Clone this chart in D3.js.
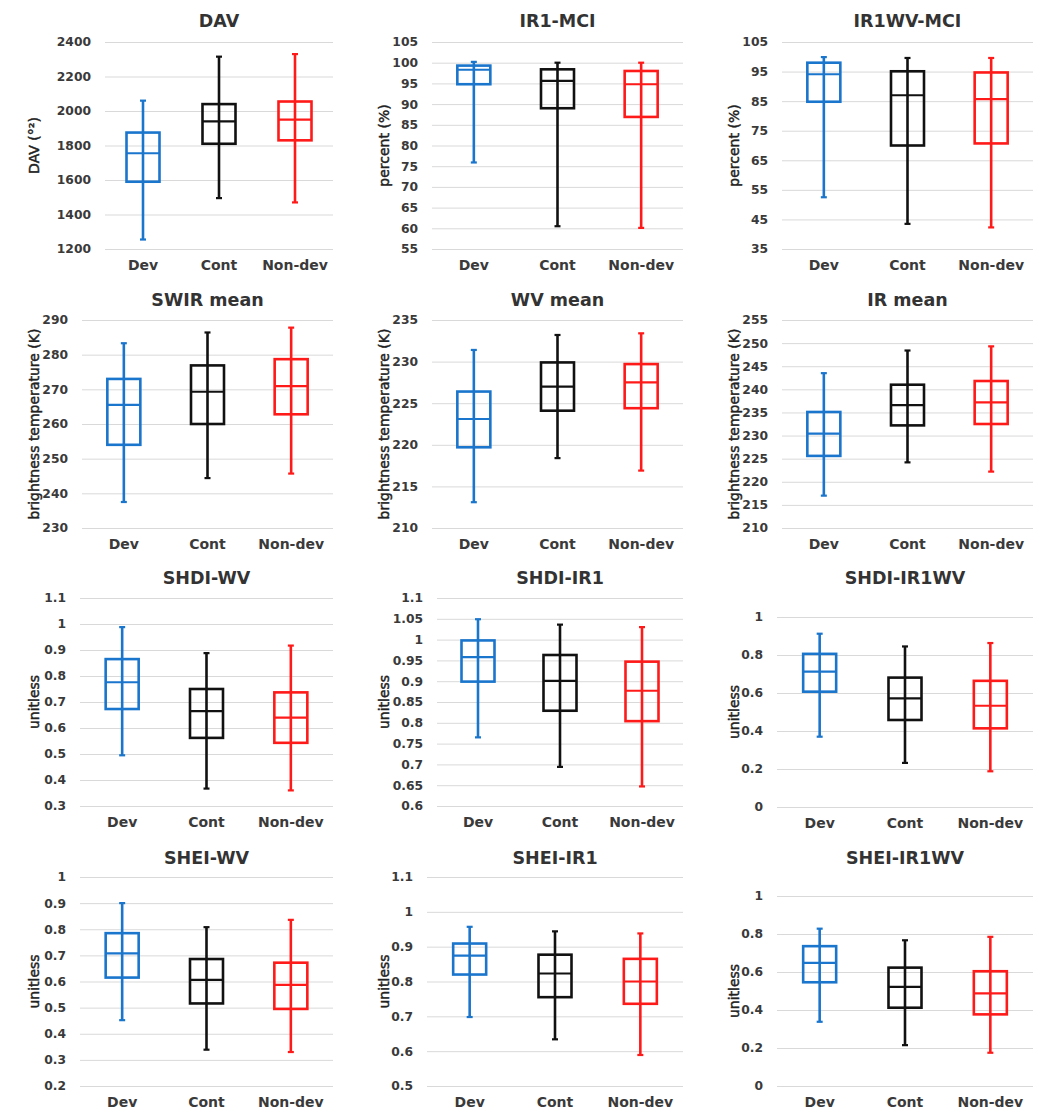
<!DOCTYPE html>
<html>
<head>
<meta charset="utf-8">
<script src="https://cdn.jsdelivr.net/npm/d3@7"></script>
<style>
  html, body { margin: 0; padding: 0; background: #fff; }
  svg { display: block; }
</style>
</head>
<body>
<svg id="chart" width="1051" height="1120"></svg>
<script>
// ---------- DATA ----------
const categories = ["Dev", "Cont", "Non-dev"];
const seriesColors = ["#1a75cc", "#111111", "#ff1a1a"];

const titles = ["DAV", "IR1-MCI", "IR1WV-MCI", "SWIR mean", "WV mean", "IR mean",
  "SHDI-WV", "SHDI-IR1", "SHDI-IR1WV", "SHEI-WV", "SHEI-IR1", "SHEI-IR1WV"];
const yLabels = ["DAV (°²)", "percent (%)", "percent (%)",
  "brightness temperature (K)", "brightness temperature (K)", "brightness temperature (K)",
  "unitless", "unitless", "unitless", "unitless", "unitless", "unitless"];

// each row: [min, q1, median, q3, max] for Dev, Cont, Non-dev
const davStats       = [[1255, 1590, 1755, 1875, 2060], [1495, 1810, 1940, 2040, 2315], [1470, 1830, 1950, 2055, 2330]];
const ir1MciStats    = [[75.9, 94.8, 98.3, 99.3, 100.2], [60.5, 89.0, 95.6, 98.4, 100], [60.1, 86.9, 94.8, 98.0, 100]];
const ir1wvMciStats  = [[52.5, 84.8, 94.1, 98.0, 99.9], [43.5, 70.0, 87.0, 95.1, 99.6], [42.3, 70.7, 85.7, 94.7, 99.6]];
const swirStats      = [[237.5, 254.0, 265.5, 273.0, 283.3], [244.4, 260.0, 269.3, 276.9, 286.4], [245.7, 262.8, 270.9, 278.7, 287.8]];
const wvStats        = [[213.1, 219.7, 223.1, 226.4, 231.4], [218.4, 224.1, 227.0, 229.9, 233.2], [216.9, 224.4, 227.5, 229.7, 233.4]];
const irStats        = [[217.0, 225.6, 230.4, 235.1, 243.5], [224.2, 232.2, 236.6, 241.0, 248.4], [222.2, 232.5, 237.2, 241.8, 249.3]];
const shdiWvStats    = [[0.495, 0.673, 0.776, 0.865, 0.988], [0.367, 0.562, 0.665, 0.750, 0.888], [0.360, 0.543, 0.640, 0.737, 0.917]];
const shdiIr1Stats   = [[0.765, 0.899, 0.958, 0.998, 1.049], [0.694, 0.829, 0.901, 0.963, 1.036], [0.647, 0.804, 0.877, 0.947, 1.030]];
const shdiIr1wvStats = [[0.370, 0.607, 0.713, 0.806, 0.912], [0.232, 0.458, 0.572, 0.681, 0.845], [0.188, 0.414, 0.533, 0.664, 0.863]];
const sheiWvStats    = [[0.452, 0.615, 0.708, 0.785, 0.900], [0.339, 0.516, 0.606, 0.686, 0.808], [0.330, 0.495, 0.587, 0.672, 0.836]];
const sheiIr1Stats   = [[0.698, 0.820, 0.874, 0.909, 0.957], [0.634, 0.755, 0.823, 0.877, 0.944], [0.589, 0.736, 0.800, 0.865, 0.938]];
const sheiIr1wvStats = [[0.338, 0.546, 0.648, 0.736, 0.828], [0.215, 0.412, 0.522, 0.623, 0.767], [0.175, 0.377, 0.487, 0.604, 0.785]];

const allStats = [davStats, ir1MciStats, ir1wvMciStats, swirStats, wvStats, irStats,
  shdiWvStats, shdiIr1Stats, shdiIr1wvStats, sheiWvStats, sheiIr1Stats, sheiIr1wvStats];

const davTicks       = [1200, 1400, 1600, 1800, 2000, 2200, 2400];
const ir1MciTicks    = [55, 60, 65, 70, 75, 80, 85, 90, 95, 100, 105];
const ir1wvMciTicks  = [35, 45, 55, 65, 75, 85, 95, 105];
const swirTicks      = [230, 240, 250, 260, 270, 280, 290];
const wvTicks        = [210, 215, 220, 225, 230, 235];
const irTicks        = [210, 215, 220, 225, 230, 235, 240, 245, 250, 255];
const shdiWvTicks    = [0.3, 0.4, 0.5, 0.6, 0.7, 0.8, 0.9, 1, 1.1];
const shdiIr1Ticks   = [0.6, 0.65, 0.7, 0.75, 0.8, 0.85, 0.9, 0.95, 1, 1.05, 1.1];
const shdiIr1wvTicks = [0, 0.2, 0.4, 0.6, 0.8, 1];
const sheiWvTicks    = [0.2, 0.3, 0.4, 0.5, 0.6, 0.7, 0.8, 0.9, 1];
const sheiIr1Ticks   = [0.5, 0.6, 0.7, 0.8, 0.9, 1, 1.1];
const sheiIr1wvTicks = [0, 0.2, 0.4, 0.6, 0.8, 1];

const allTicks = [davTicks, ir1MciTicks, ir1wvMciTicks, swirTicks, wvTicks, irTicks,
  shdiWvTicks, shdiIr1Ticks, shdiIr1wvTicks, sheiWvTicks, sheiIr1Ticks, sheiIr1wvTicks];

// ---------- LAYOUT ----------
const colX = [0, 350, 700];
const rowTitleY = [21, 300, 578, 858];
const panelLayout = [
  { left: 105, top: 42,  bottom: 249 },
  { left: 82,  top: 42,  bottom: 249 },
  { left: 82,  top: 42,  bottom: 249 },
  { left: 82,  top: 320, bottom: 528 },
  { left: 82,  top: 320, bottom: 528 },
  { left: 82,  top: 320, bottom: 528 },
  { left: 80,  top: 598, bottom: 806 },
  { left: 87,  top: 598, bottom: 806 },
  { left: 77,  top: 617, bottom: 807 },
  { left: 80,  top: 877, bottom: 1086 },
  { left: 77,  top: 877, bottom: 1086 },
  { left: 77,  top: 896, bottom: 1086 }
];
const plotRightRel = 333;
const boxWidth = 33;
const capWidth = 6;
const textColor = "#3a3a3a";

const svg = d3.select("#chart");

allStats.forEach((stats, i) => {
  const col = i % 3, row = Math.floor(i / 3);
  const L = panelLayout[i];
  const x0 = colX[col] + L.left;
  const x1 = colX[col] + plotRightRel;
  const ticks = allTicks[i];

  const y = d3.scaleLinear()
    .domain([ticks[0], ticks[ticks.length - 1]])
    .range([L.bottom, L.top]);
  const x = d3.scaleBand().domain(categories).range([x0, x1]).padding(0);

  const g = svg.append("g");

  const yAxis = d3.axisLeft(y)
    .tickValues(ticks)
    .tickSize(-(x1 - x0))
    .tickPadding(14)
    .tickFormat(d => String(d));
  const ya = g.append("g").attr("transform", `translate(${x0},0)`).call(yAxis);
  ya.select(".domain").remove();
  ya.selectAll(".tick line").attr("stroke", "#d9d9d9").attr("stroke-width", 1);
  ya.selectAll(".tick text")
    .attr("fill", textColor)
    .style("font-family", "'DejaVu Sans', sans-serif")
    .style("font-weight", "bold")
    .style("font-size", "12.3px");

  const xAxis = d3.axisBottom(x).tickSize(0).tickPadding(0);
  const xa = g.append("g").attr("transform", `translate(0,${L.bottom + 21})`).call(xAxis);
  xa.select(".domain").remove();
  xa.selectAll(".tick text")
    .attr("dy", 0)
    .attr("fill", textColor)
    .style("font-family", "'DejaVu Sans', sans-serif")
    .style("font-weight", "bold")
    .style("font-size", "14px");

  g.append("text")
    .attr("x", (x0 + x1) / 2)
    .attr("y", rowTitleY[row])
    .attr("dy", "0.36em")
    .attr("text-anchor", "middle")
    .attr("fill", "#333")
    .style("font-family", "'DejaVu Sans', sans-serif")
    .style("font-weight", "bold")
    .style("font-size", "17.5px")
    .text(titles[i]);

  const lx = colX[col] + 34, ly = (L.top + L.bottom) / 2;
  g.append("text")
    .attr("transform", `translate(${lx},${ly}) rotate(-90)`)
    .attr("text-anchor", "middle")
    .attr("dy", "0.36em")
    .attr("fill", "#222")
    .attr("stroke", "#222")
    .attr("stroke-width", 0.45)
    .style("font-family", "'DejaVu Sans', sans-serif")
    .style("font-size", "14px")
    .text(yLabels[i]);

  const boxes = g.selectAll(".box")
    .data(stats.map((s, k) => ({ cat: categories[k], s, color: seriesColors[k] })))
    .join("g")
    .attr("class", "box");

  boxes.each(function (d) {
    const bg = d3.select(this);
    const cx = x(d.cat) + x.bandwidth() / 2;
    const [mn, q1, md, q3, mx] = d.s;
    bg.append("line")
      .attr("x1", cx).attr("x2", cx)
      .attr("y1", y(mn)).attr("y2", y(mx))
      .attr("stroke", d.color).attr("stroke-width", 2.6);
    [mn, mx].forEach(v => {
      bg.append("line")
        .attr("x1", cx - capWidth / 2).attr("x2", cx + capWidth / 2)
        .attr("y1", y(v)).attr("y2", y(v))
        .attr("stroke", d.color).attr("stroke-width", 2.2);
    });
    bg.append("rect")
      .attr("x", cx - boxWidth / 2)
      .attr("y", y(q3))
      .attr("width", boxWidth)
      .attr("height", y(q1) - y(q3))
      .attr("fill", "none")
      .attr("stroke", d.color).attr("stroke-width", 2.6);
    bg.append("line")
      .attr("x1", cx - boxWidth / 2).attr("x2", cx + boxWidth / 2)
      .attr("y1", y(md)).attr("y2", y(md))
      .attr("stroke", d.color).attr("stroke-width", 2.2);
  });
});
</script>
</body>
</html>
